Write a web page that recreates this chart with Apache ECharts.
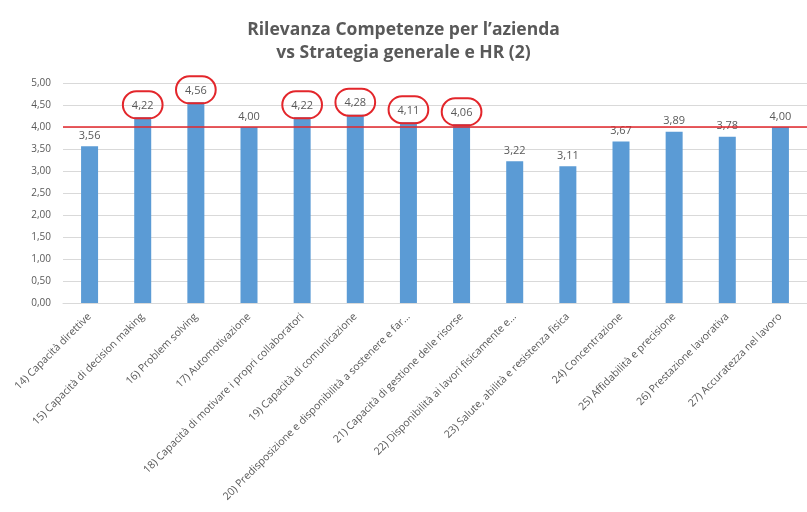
<!DOCTYPE html>
<html>
<head>
<meta charset="utf-8">
<script src="https://cdn.jsdelivr.net/npm/echarts@6/dist/echarts.min.js"></script>
<style>
  html, body { margin: 0; padding: 0; background: #fff; }
  #chart { width: 807px; height: 512px; }
</style>
</head>
<body>
<div id="chart"></div>
<script>
var dom = document.getElementById("chart");
var myChart = echarts.init(dom);

var categories = [
    "14) Capacità direttive",
    "15) Capacità di decision making",
    "16) Problem solving",
    "17) Automotivazione",
    "18) Capacità di motivare i propri collaboratori",
    "19) Capacità di comunicazione",
    "20) Predisposizione e disponibilità a sostenere e far...",
    "21) Capacità di gestione delle risorse",
    "22) Disponibilità ai lavori fisicamente e...",
    "23) Salute, abilità e resistenza fisica",
    "24) Concentrazione",
    "25) Affidabilità e precisione",
    "26) Prestazione lavorativa",
    "27) Accuratezza nel lavoro"
];
var values = [3.56, 4.22, 4.56, 4.00, 4.22, 4.28, 4.11, 4.06, 3.22, 3.11, 3.67, 3.89, 3.78, 4.00];
var soglia = 4.00;

var textGray = "#595959";
var barColor = "#5b9bd5";
var redColor = "#e3262b";

function fmt(v) {
    return v.toFixed(2).replace(".", ",");
}

// sopra la soglia: etichetta cerchiata in rosso
var barData = values.map(function (v) {
    if (v > soglia) {
        return {
            value: v,
            label: {
                distance: -1,
                padding: [9, 9, 7, 9],
                borderColor: redColor,
                borderWidth: 2,
                borderRadius: 18
            }
        };
    }
    return v;
});

var option = {
    backgroundColor: "#fff",
    title: {
        text: "Rilevanza Competenze per l\u2019azienda\nvs Strategia generale e HR (2)",
        left: "center",
        top: 14,
        textStyle: {
            fontFamily: "Open Sans",
            fontWeight: "bold",
            fontSize: 17.5,
            lineHeight: 23,
            color: textGray
        }
    },
    grid: {
        left: 63,
        right: -6,
        top: 83,
        bottom: 209
    },
    xAxis: {
        type: "category",
        data: categories,
        axisTick: { show: false },
        axisLine: { lineStyle: { color: "#d9d9d9" } },
        axisLabel: {
            interval: 0,
            rotate: 45,
            margin: 12,
            fontFamily: "Open Sans",
            fontSize: 10.5,
            color: textGray
        }
    },
    yAxis: {
        type: "value",
        min: 0,
        max: 5,
        interval: 0.5,
        axisLine: { show: false },
        axisTick: { show: false },
        splitLine: { lineStyle: { color: "#d9d9d9", width: 1 } },
        axisLabel: {
            margin: 12,
            fontFamily: "Open Sans",
            fontSize: 10,
            color: textGray,
            formatter: function (v) { return fmt(v); }
        }
    },
    series: [
        {
            type: "bar",
            data: barData,
            barWidth: 17,
            itemStyle: { color: barColor },
            label: {
                show: true,
                position: "top",
                distance: 5,
                fontFamily: "Open Sans",
                fontSize: 11,
                color: textGray,
                formatter: function (p) { return fmt(p.value); }
            },
            markLine: {
                silent: true,
                symbol: "none",
                label: { show: false },
                lineStyle: { color: redColor, width: 1.5, type: "solid" },
                data: [{ yAxis: soglia }]
            }
        }
    ]
};
myChart.setOption(option);
</script>
</body>
</html>
